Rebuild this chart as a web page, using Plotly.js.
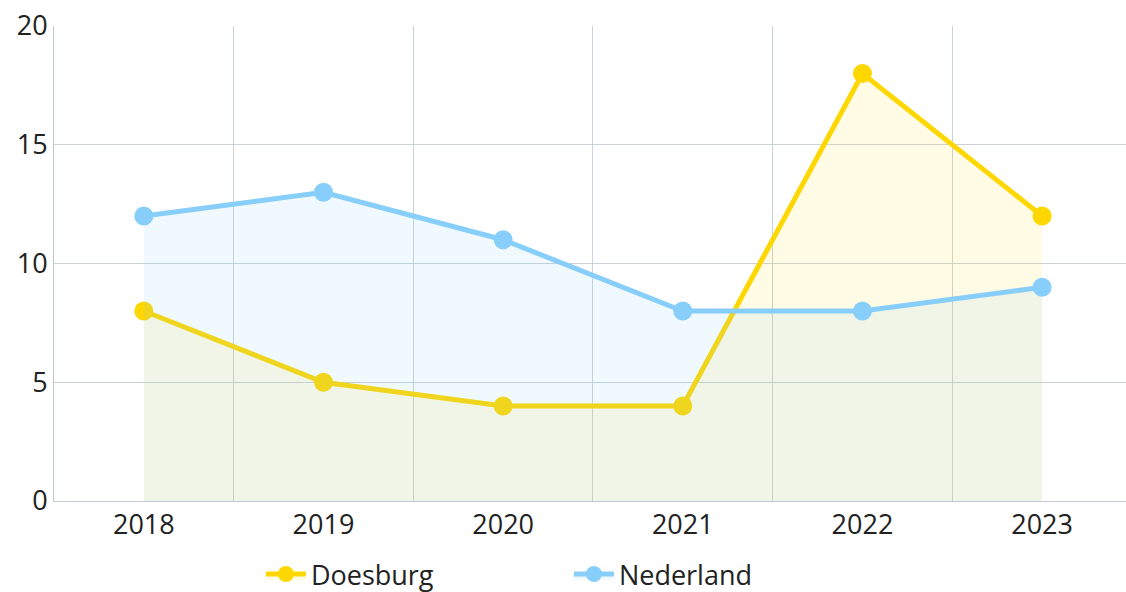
<!DOCTYPE html>
<html><head><meta charset="utf-8">
<script src="https://cdn.plot.ly/plotly-3.0.1.min.js"></script>
<style>body{margin:0;padding:0;background:#fff}#chart{width:1126px;height:592px}</style>
</head><body><div id="chart"></div>
<script>
const years = ["2018","2019","2020","2021","2022","2023"];
const doesburg = [8, 5, 4, 4, 18, 12];
const nederland = [12, 13, 11, 8, 8, 9];
const yTicks = [0, 5, 10, 15, 20];

const traces = [
  {x: years, y: doesburg, name: "Doesburg", type: "scatter", mode: "lines+markers",
   fill: "tozeroy", fillcolor: "rgba(255,215,0,0.1)",
   line: {color: "#FFD700", width: 5}, marker: {color: "#FFD700", size: 19}},
  {x: years, y: nederland, name: "Nederland", type: "scatter", mode: "lines+markers",
   fill: "tozeroy", fillcolor: "rgba(135,206,250,0.12)",
   line: {color: "#87CEFA", width: 5}, marker: {color: "#87CEFA", size: 19}}
];
const layout = {
  width: 1126, height: 592,
  margin: {l: 54, r: 0, t: 26, b: 91, autoexpand: false},
  paper_bgcolor: "#fff", plot_bgcolor: "#fff",
  font: {family: "Open Sans, Noto Sans, sans-serif", color: "#222"},
  xaxis: {type: "category", range: [-0.5, 5.467], tickson: "boundaries",
    showgrid: true, gridcolor: "#c9d1da", gridwidth: 1, ticks: "",
    showline: true, linecolor: "#c0cad6", linewidth: 1, automargin: false,
    tickfont: {size: 27, color: "#222"}, zeroline: false, fixedrange: true},
  yaxis: {range: [0, 20], tickvals: yTicks, showgrid: true, gridcolor: "#c9d1da",
    showline: true, linecolor: "#c0cad6", linewidth: 1, zeroline: false, automargin: false,
    tickfont: {size: 27, color: "#222"}, ticks: "", ticklen: 0, fixedrange: true},
  showlegend: true,
  legend: {orientation: "h", x: 0.193, xanchor: "left", y: -0.103, yanchor: "top",
    font: {size: 27, color: "#222"}, itemwidth: 40, entrywidth: 253, entrywidthmode: "pixels",
    tracegroupgap: 0},
  hovermode: false
};
Plotly.newPlot("chart", traces, layout, {displayModeBar: false, staticPlot: true});
</script></body></html>
